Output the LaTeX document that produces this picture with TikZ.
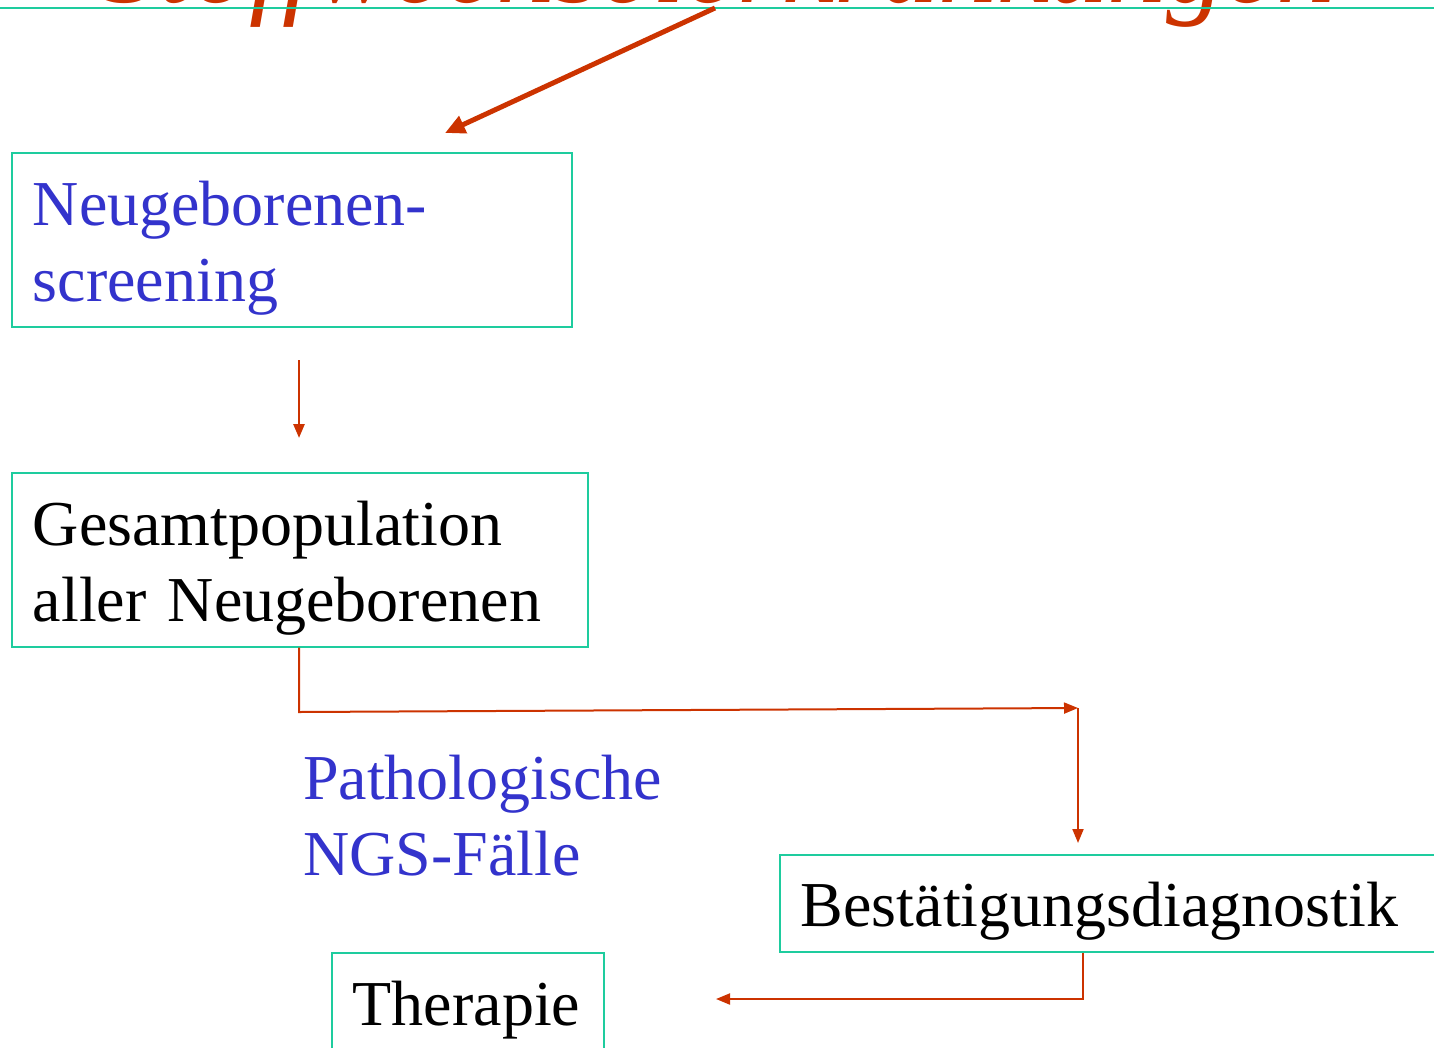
\documentclass[tikz,border=0pt]{standalone}
\usepackage{fontspec}
\setmainfont{Liberation Serif}
\usetikzlibrary{arrows.meta}
\definecolor{teal1}{RGB}{30,204,158}
\definecolor{red1}{RGB}{204,51,0}
\definecolor{blue1}{RGB}{51,51,204}
\tikzset{
  box/.style={draw=teal1, line width=1.6pt, anchor=north west, inner xsep=21pt, inner ysep=0pt, align=left,
    font=\fontsize{64}{76}\selectfont},
  conn/.style={draw=red1, line width=2pt, -{Triangle[length=14pt,width=11pt]}},
  thick conn/.style={draw=red1, line width=5pt, -{Triangle[length=20pt,width=18pt]}},
}
\begin{document}
\begin{tikzpicture}[x=1pt,y=-1pt]
\useasboundingbox (0,0) rectangle (1434,1047);
% title (cut off at top)
\node (title) [anchor=base west, inner sep=0pt, text=red1, font=\fontsize{117}{120}\selectfont\itshape] at (100,2) {Stoffwechselerkrankungen};
\draw[teal1, line width=2pt] (0,8) coordinate (hl) -- (1434,8) coordinate (hr);
% boxes
\node (nbs) [box, text=blue1, minimum width=560pt, minimum height=174pt, text width=518pt] at (11,152)
  {\rule{0pt}{61pt}Neugeborenen-\\screening\rule[-14pt]{0pt}{1pt}};
\node (ges) [box, minimum width=576pt, minimum height=174pt, text width=534pt] at (11,472)
  {\rule{0pt}{61pt}Gesamtpopulation\\aller Neugeborenen\rule[-14pt]{0pt}{1pt}};
\node (path) [anchor=north west, inner sep=0pt, align=left, text=blue1, font=\fontsize{64}{76}\selectfont] at (303,755)
  {Pathologische\\NGS-Fälle};
\node (best) [box, minimum width=680pt, minimum height=97pt, text width=638pt] at (779,854)
  {\rule{0pt}{61pt}Bestätigungsdiagnostik\rule[-4pt]{0pt}{1pt}};
\node (ther) [box, minimum width=272pt, minimum height=120pt, text width=230pt] at (331,952)
  {\rule{0pt}{53pt}Therapie\rule[-28pt]{0pt}{1pt}};
% connectors
\coordinate (a1s) at (715,8);
\coordinate (a1e) at (445,133);
\draw[thick conn] (a1s) -- (a1e);
\coordinate (a2s) at (299,360);
\coordinate (a2e) at (299,438);
\draw[conn, line width=2.6pt] (a2s) -- (a2e);
\coordinate (e1) at (299,712);
\coordinate (e2) at (1078,708);
\draw[conn] (ges.south -| e1) -- (e1) -- (e2);
\coordinate (e3) at (1078,843);
\draw[conn] (e2) -- (e3);
\coordinate (f1) at (1083,999);
\coordinate (f2) at (716,999);
\draw[conn] (best.south -| f1) -- (f1) -- (f2);
\end{tikzpicture}
\end{document}
